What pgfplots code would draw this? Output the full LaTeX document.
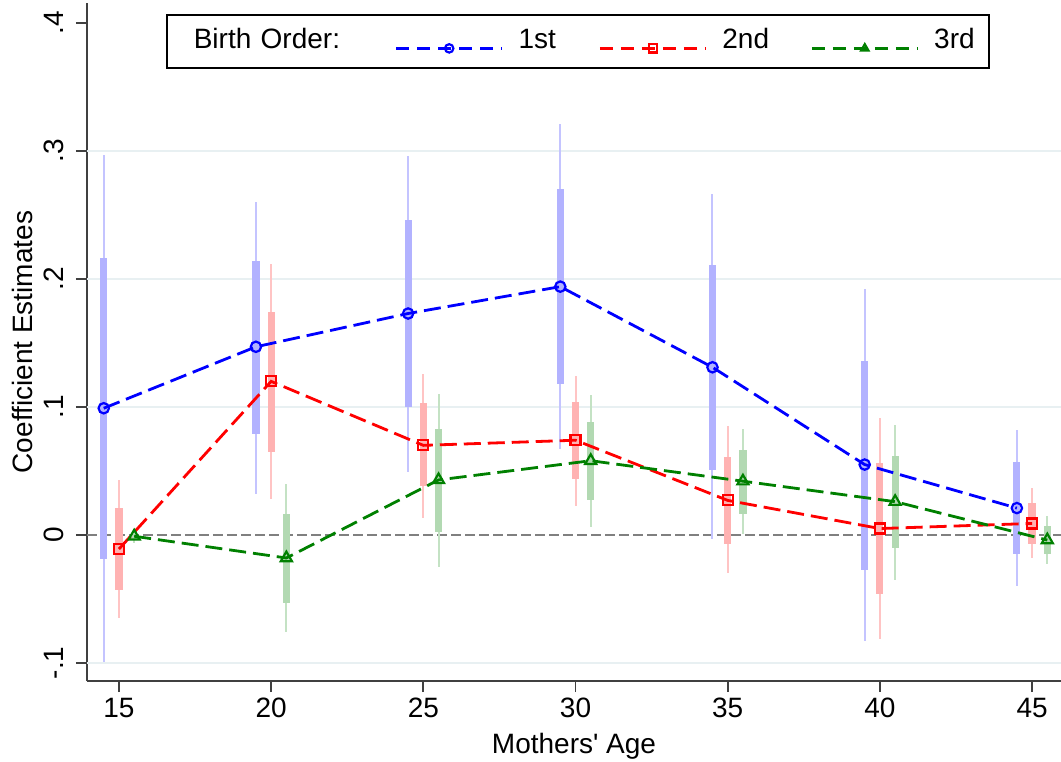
\documentclass[border=0pt]{standalone}
\usepackage{fontspec}
\setmainfont{Liberation Sans}
\newfontfamily\arial{Liberation Sans}
\usepackage{pgfplots}
\usepackage{pgfplotstable}
\pgfplotsset{compat=1.18}

\definecolor{cblue}{RGB}{0,0,255}
\definecolor{cred}{RGB}{255,0,0}
\definecolor{cgreen}{RGB}{0,128,0}
\definecolor{lblue}{RGB}{178,178,255}
\definecolor{lred}{RGB}{255,178,178}
\definecolor{lgreen}{RGB}{178,217,178}
\definecolor{tblue}{RGB}{196,196,255}
\definecolor{tred}{RGB}{255,196,196}
\definecolor{tgreen}{RGB}{196,226,196}
\definecolor{gridc}{RGB}{232,240,242}
\definecolor{axc}{RGB}{64,64,64}

% x  y  lo90 hi90 lo95 hi95
\pgfplotstableread{
x y lo hi llo hhi
14.5 0.099 -0.019 0.216 -0.099 0.297
19.5 0.147 0.079 0.214 0.032 0.260
24.5 0.173 0.100 0.246 0.049 0.296
29.5 0.194 0.118 0.270 0.067 0.321
34.5 0.131 0.051 0.211 -0.003 0.266
39.5 0.055 -0.027 0.136 -0.083 0.192
44.5 0.021 -0.015 0.057 -0.040 0.082
}\first
\pgfplotstableread{
x y lo hi llo hhi
15 -0.011 -0.043 0.021 -0.065 0.043
20 0.120 0.065 0.174 0.028 0.212
25 0.070 0.038 0.103 0.013 0.126
30 0.074 0.044 0.104 0.023 0.124
35 0.027 -0.007 0.061 -0.030 0.085
40 0.005 -0.046 0.056 -0.081 0.091
45 0.009 -0.007 0.025 -0.018 0.037
}\second
\pgfplotstableread{
x y lo hi llo hhi
15.5 -0.001 -0.004 0.001 -0.006 0.002
20.5 -0.018 -0.053 0.016 -0.076 0.040
25.5 0.043 0.002 0.083 -0.025 0.110
30.5 0.058 0.027 0.088 0.006 0.109
35.5 0.042 0.016 0.066 0.001 0.083
40.5 0.026 -0.010 0.062 -0.035 0.086
45.5 -0.004 -0.015 0.007 -0.023 0.015
}\third

\newcommand{\fnt}{\arial\fontsize{14pt}{16pt}\selectfont}

\pgfplotsset{
  ci95/.style={draw=none, mark=none, forget plot,
    error bars/.cd, y dir=both, y explicit, error mark=none,
    error bar style={line width=1pt, draw=#1, solid}},
  ci90/.style={draw=none, mark=none, forget plot,
    error bars/.cd, y dir=both, y explicit, error mark=none,
    error bar style={line width=3.6pt, draw=#1, solid}},
}

\begin{document}
\begin{tikzpicture}
\begin{axis}[
  scale only axis,
  width=487pt, height=339pt,
  xmin=13.95, xmax=45.95,
  ymin=-0.1141, ymax=0.4156,
  axis x line*=bottom, axis y line*=left,
  axis line style={color=axc, line width=1pt},
  tick align=outside,
  major tick length=5.5pt,
  tick style={color=axc, line width=0.9pt},
  xtick={15,20,25,30,35,40,45},
  xticklabels={15,20,25,30,35,40,45},
  ytick={-0.1,0,0.1,0.2,0.3,0.4},
  yticklabels={-.1,0,.1,.2,.3,.4},
  ticklabel style={font=\fnt},
  xticklabel style={anchor=north, inner sep=0pt, yshift=-3pt},
  yticklabel style={anchor=base, inner sep=0pt, xshift=-6pt, rotate=90},
  xlabel={Mothers' Age},
  ylabel={Coefficient Estimates},
  label style={font=\fnt},
  xlabel style={at={(axis description cs:0.5,0)}, anchor=base, yshift=-36pt, inner sep=0pt},
  ylabel style={at={(axis description cs:0,0.5)}, anchor=base, yshift=27pt, inner sep=0pt},
  clip=false,
  legend columns=4,
  legend style={at={(axis description cs:0.0811,0.9838)}, anchor=north west,
    draw=black, line width=0.8pt, fill=white,
    inner xsep=6pt, inner ysep=6.8pt,
    font=\fnt, column sep=7.5pt,
    nodes={inner sep=0pt, anchor=base west, text height=10pt, text depth=3pt}},
  legend image code/.code={%
    \draw[mark repeat=2,mark phase=2,#1, mark size=2.1pt, dash pattern=on 6.5pt off 4pt]
      plot coordinates {(0pt,0pt) (26.5pt,0pt) (53pt,0pt)};},
]
% grid lines
\addplot[forget plot, gridc, line width=0.8pt] coordinates {(13.95,-0.1) (45.95,-0.1)};
\addplot[forget plot, gridc, line width=0.8pt] coordinates {(13.95,0.1) (45.95,0.1)};
\addplot[forget plot, gridc, line width=0.8pt] coordinates {(13.95,0.2) (45.95,0.2)};
\addplot[forget plot, gridc, line width=0.8pt] coordinates {(13.95,0.3) (45.95,0.3)};
% zero line
\addplot[forget plot, color={rgb,255:red,128;green,128;blue,128}, line width=1.1pt, dash pattern=on 5pt off 2pt]
  coordinates {(13.95,0) (45.95,0)};

% 95% CIs (thin)
\addplot[ci95=tblue] table[x=x, y=y, y error plus expr=\thisrow{hhi}-\thisrow{y}, y error minus expr=\thisrow{y}-\thisrow{llo}] {\first};
\addplot[ci95=tred] table[x=x, y=y, y error plus expr=\thisrow{hhi}-\thisrow{y}, y error minus expr=\thisrow{y}-\thisrow{llo}] {\second};
\addplot[ci95=tgreen] table[x=x, y=y, y error plus expr=\thisrow{hhi}-\thisrow{y}, y error minus expr=\thisrow{y}-\thisrow{llo}] {\third};
% 90% CIs (thick)
\addplot[ci90=lblue] table[x=x, y=y, y error plus expr=\thisrow{hi}-\thisrow{y}, y error minus expr=\thisrow{y}-\thisrow{lo}] {\first};
\addplot[ci90=lred] table[x=x, y=y, y error plus expr=\thisrow{hi}-\thisrow{y}, y error minus expr=\thisrow{y}-\thisrow{lo}] {\second};
\addplot[ci90=lgreen] table[x=x, y=y, y error plus expr=\thisrow{hi}-\thisrow{y}, y error minus expr=\thisrow{y}-\thisrow{lo}] {\third};

\addlegendimage{empty legend}
\addlegendentry[text width=93pt]{Birth Order:}
\addplot[cblue, line width=1.4pt, dash pattern=on 8.5pt off 3.5pt, mark=o, mark size=2.6pt,
  mark options={solid, line width=1.1pt}] table[x=x, y=y] {\first};
\addlegendentry[text width=32.5pt]{1st}
\addplot[cred, line width=1.4pt, dash pattern=on 8.5pt off 3.5pt, mark=square, mark size=2.5pt,
  mark options={solid, line width=1.1pt}] table[x=x, y=y] {\second};
\addlegendentry[text width=36.5pt]{2nd}
\addplot[cgreen, line width=1.4pt, dash pattern=on 8.5pt off 3.5pt, mark=triangle, mark size=3.2pt,
  mark options={solid, line width=1.1pt}] table[x=x, y=y] {\third};
\addlegendentry[text width=21.5pt]{3rd}
\end{axis}
\pgfresetboundingbox
\useasboundingbox (-43.5pt,-40pt) rectangle (487pt,340.5pt);
\end{tikzpicture}
\end{document}
